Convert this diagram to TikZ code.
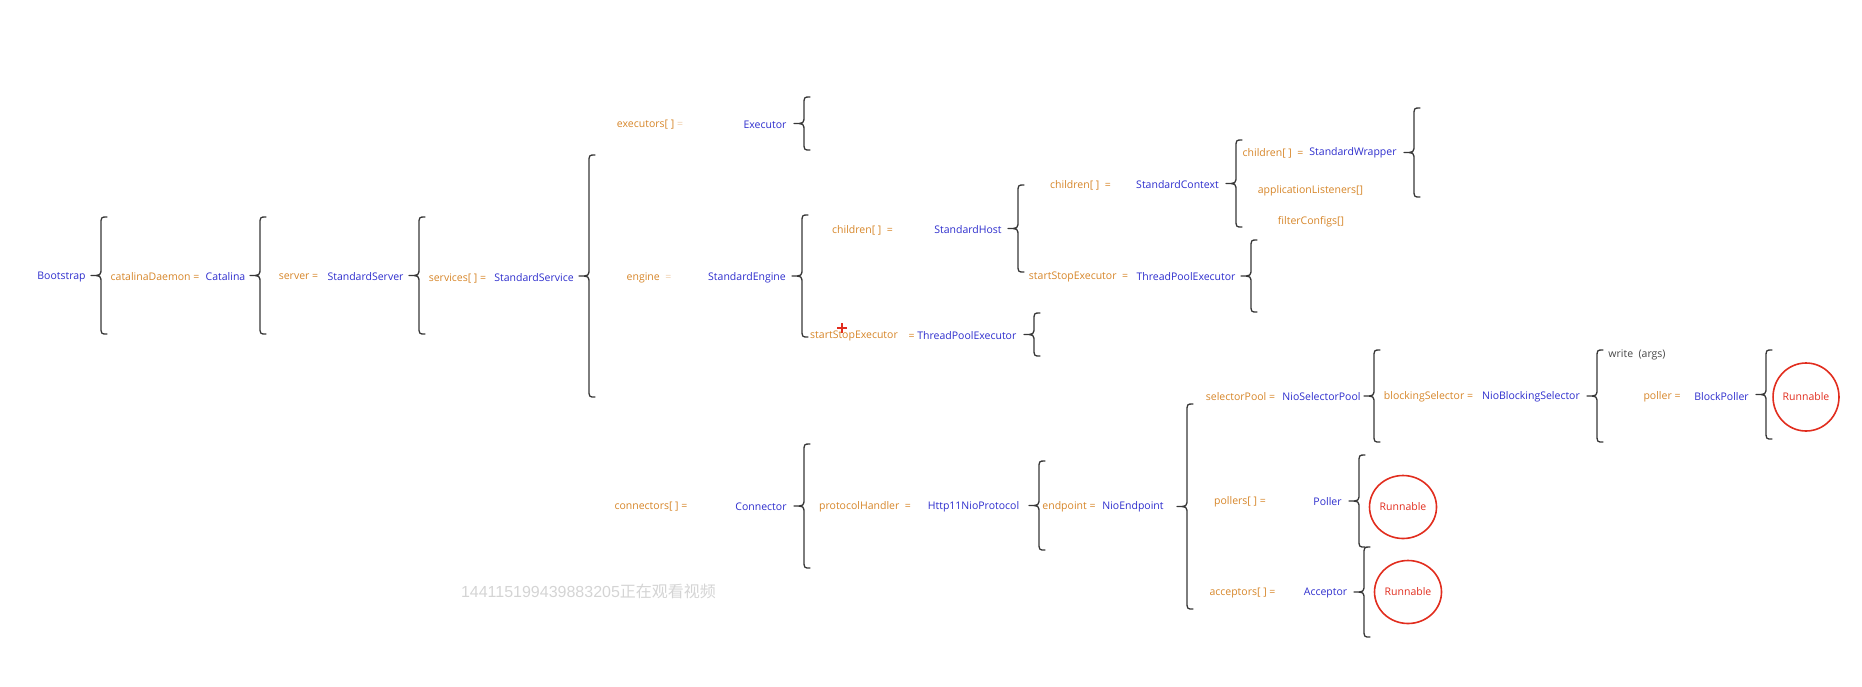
\documentclass[tikz,border=0pt]{standalone}
\usepackage{fontspec}
\setmainfont{Open Sans}
\newfontfamily\wmfont{Liberation Sans}
\newfontfamily\cjkfont{Noto Sans CJK SC}
\usetikzlibrary{shapes.geometric}
\definecolor{lblc}{RGB}{214,133,40}
\definecolor{valc}{RGB}{45,45,205}
\definecolor{redc}{RGB}{225,45,30}
\definecolor{brcc}{RGB}{55,55,55}
\definecolor{fadec}{RGB}{238,205,170}
\definecolor{darkc}{RGB}{70,70,70}
\definecolor{wmc}{RGB}{212,212,212}
\newcommand\mybrace[3]{%
 \pgfmathsetmacro\brmid{(#2+#3)/2}%
 \draw[brc] (#1,#2) .. controls ({#1-6},#2) .. ({#1-6},{#2+8}) -- ({#1-6},{\brmid-8}) .. controls ({#1-6},\brmid) .. ({#1-16},\brmid) .. controls ({#1-6},\brmid) .. ({#1-6},{\brmid+8}) -- ({#1-6},{#3-8}) .. controls ({#1-6},#3) .. (#1,#3);}
\begin{document}
\begin{tikzpicture}[x=1pt,y=-1pt,
  txt/.style={inner sep=0pt,font=\fontsize{10.5}{12}\selectfont},
  lbl/.style={txt,text=lblc},
  val/.style={txt,text=valc},
  dark/.style={txt,text=darkc},
  brc/.style={draw=brcc,line width=1.3pt,line cap=round,line join=round},
  run/.style={ellipse,draw=redc,line width=1.6pt,text=redc,inner sep=0pt,font=\fontsize{10.5}{12}\selectfont}]
\useasboundingbox (0,0) rectangle (1862,686);
% row 1
\node[val] (boot) at (61.5,277) {Bootstrap};
\node[lbl] (cdl) at (155,277) {catalinaDaemon =};
\node[val] (cdv) at (225.5,277) {Catalina};
\node[lbl] (svl) at (298.5,277) {server =};
\node[val] (svv) at (365.5,277) {StandardServer};
\node[lbl] (ssl) at (457.5,278) {services[ ] =};
\node[val] (ssv) at (534,278) {StandardService};
% executors
\node[lbl] (exl) at (650,125) {executors[ ]\ \textcolor{fadec}{=}};
\node[val] (exv) at (765,125) {Executor};
% engine
\node[lbl] (enl) at (649,278) {engine\ \ \textcolor{fadec}{=}};
\node[val] (env) at (747,278) {StandardEngine};
\node[lbl] (chl) at (862.5,230) {children[ ]\ \ =};
\node[val] (chv) at (968,230) {StandardHost};
\node[lbl] (sel) at (854,336) {startStopExecutor};
\node[val] (sev) at (962.5,336) {\textcolor{lblc}{=} ThreadPoolExecutor};
% host
\node[lbl] (hcl) at (1080.5,185) {children[ ]\ \ =};
\node[val] (hcv) at (1177.5,185) {StandardContext};
\node[lbl] (ccl) at (1273,153) {children[ ]\ \ =};
\node[val] (ccv) at (1353,153) {StandardWrapper};
\node[lbl] (apl) at (1310.5,191) {applicationListeners[]};
\node[lbl] (fcl) at (1311,222) {filterConfigs[]};
\node[lbl] (hsl) at (1078.5,277) {startStopExecutor\ \ =};
\node[val] (hsv) at (1186,277) {ThreadPoolExecutor};
% connector
\node[lbl] (col) at (651,507) {connectors[ ] =};
\node[val] (cov) at (761,507) {Connector};
\node[lbl] (phl) at (865,507) {protocolHandler\ \ =};
\node[val] (phv) at (973.5,507) {Http11NioProtocol};
\node[lbl] (epl) at (1069,507) {endpoint =};
\node[val] (epv) at (1133,507) {NioEndpoint};
\node[lbl] (spl) at (1240.5,397) {selectorPool =};
\node[val] (spv) at (1321.5,397) {NioSelectorPool};
\node[lbl] (bsl) at (1428.5,397) {blockingSelector =};
\node[val] (bsv) at (1531,397) {NioBlockingSelector};
\node[dark] (wr) at (1637,355) {write\ \ (args)};
\node[lbl] (pol) at (1662,397) {poller =};
\node[val] (pov) at (1721.5,397) {BlockPoller};
\node[run,minimum width=62pt,minimum height=68pt] (r1) at (1806,397) {Runnable};
\node[lbl] (pll) at (1240,502) {pollers[ ] =};
\node[val] (plv) at (1327.5,502) {Poller};
\node[run,minimum width=67pt,minimum height=63pt] (r2) at (1403,507) {Runnable};
\node[lbl] (acl) at (1242.5,593) {acceptors[ ] =};
\node[val] (acv) at (1325.5,593) {Acceptor};
\node[run,minimum width=67pt,minimum height=63pt] (r3) at (1408,592) {Runnable};
% watermark
\node[inner sep=0pt,text=wmc,font=\fontsize{16}{18}\selectfont] (wm) at (588.5,591) {\wmfont 144115199439883205\cjkfont 正在观看视频};
% cursor
\draw[redc,line width=1.3pt] (837,328) -- (847,328) (842,323) -- (842,333);
% braces
\mybrace{107}{217}{334}
\mybrace{266}{217}{334}
\mybrace{425}{217}{334}
\mybrace{595}{155}{397}
\mybrace{810}{97}{150}
\mybrace{808}{215}{337}
\mybrace{1024}{185}{272}
\mybrace{1040}{313}{356}
\mybrace{1242}{140}{227}
\mybrace{1420}{108}{197}
\mybrace{1257}{240}{312}
\mybrace{810}{444}{568}
\mybrace{1045}{461}{550}
\mybrace{1193}{404}{609}
\mybrace{1380}{350}{442}
\mybrace{1603}{350}{442}
\mybrace{1772}{350}{439}
\mybrace{1365}{455}{547}
\mybrace{1370}{547}{637}
\end{tikzpicture}
\end{document}
